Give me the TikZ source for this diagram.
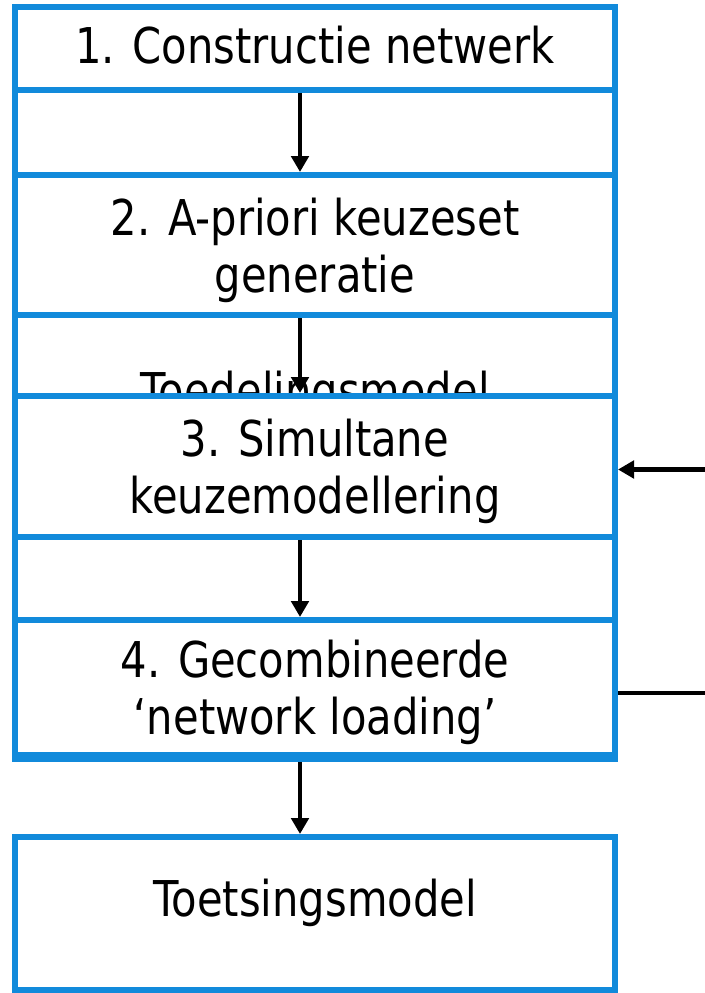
\documentclass[tikz,border=0pt]{standalone}
\usepackage{fontspec}
\setmainfont[FakeStretch=0.845]{DejaVu Sans}
\usetikzlibrary{arrows.meta}
\definecolor{frameblue}{RGB}{17,138,219}
\tikzset{
  stage/.style={draw=frameblue, line width=4.5pt, fill=white, minimum width=450pt,
    align=center, inner sep=0pt, text depth=0pt, font=\fontsize{37}{43}\selectfont},
  flow/.style={line width=3.6pt, -{Triangle[width=13pt,length=12pt]}},
  link/.style={line width=3.6pt}
}
\begin{document}
\begin{tikzpicture}[x=0.75pt,y=-0.75pt]
    \useasboundingbox (0,0) rectangle (705,993);
    \coordinate (axis) at (300,0);
    \coordinate (fbin) at (705,469.5);
    \coordinate (fbout) at (705,693);
    \node [stage, minimum height=564pt, text height=37.5pt] (toedel) at (315,383) {Toedelingsmodel};
    \node [stage, minimum height=62.25pt, text depth=6pt] (constr) at (315,48.5) {1. Constructie netwerk};
    \node [stage, minimum height=105pt] (apriori) at (315,245) {2. A-priori keuzeset\\generatie};
    \node [stage, minimum height=105.75pt] (simul) at (315,466.5) {3. Simultane\\keuzemodellering};
    \node [stage, minimum height=101.25pt] (netload) at (315,687.5) {4. Gecombineerde\\‘network loading’};
    \node [stage, minimum height=114.75pt, text depth=24pt] (toets) at (315,913.5) {Toetsingsmodel};
    \draw [flow] (constr.south -| axis) -- (apriori.north -| axis);
    \draw [flow] (apriori.south -| axis) -- (simul.north -| axis);
    \draw [flow] (simul.south -| axis) -- (netload.north -| axis);
    \draw [flow] (toedel.south -| axis) -- (toets.north -| axis);
    \draw [flow] (fbin) -- (fbin -| simul.east);
    \draw [link] (netload.east |- fbout) -- (fbout);
\end{tikzpicture}
\end{document}
